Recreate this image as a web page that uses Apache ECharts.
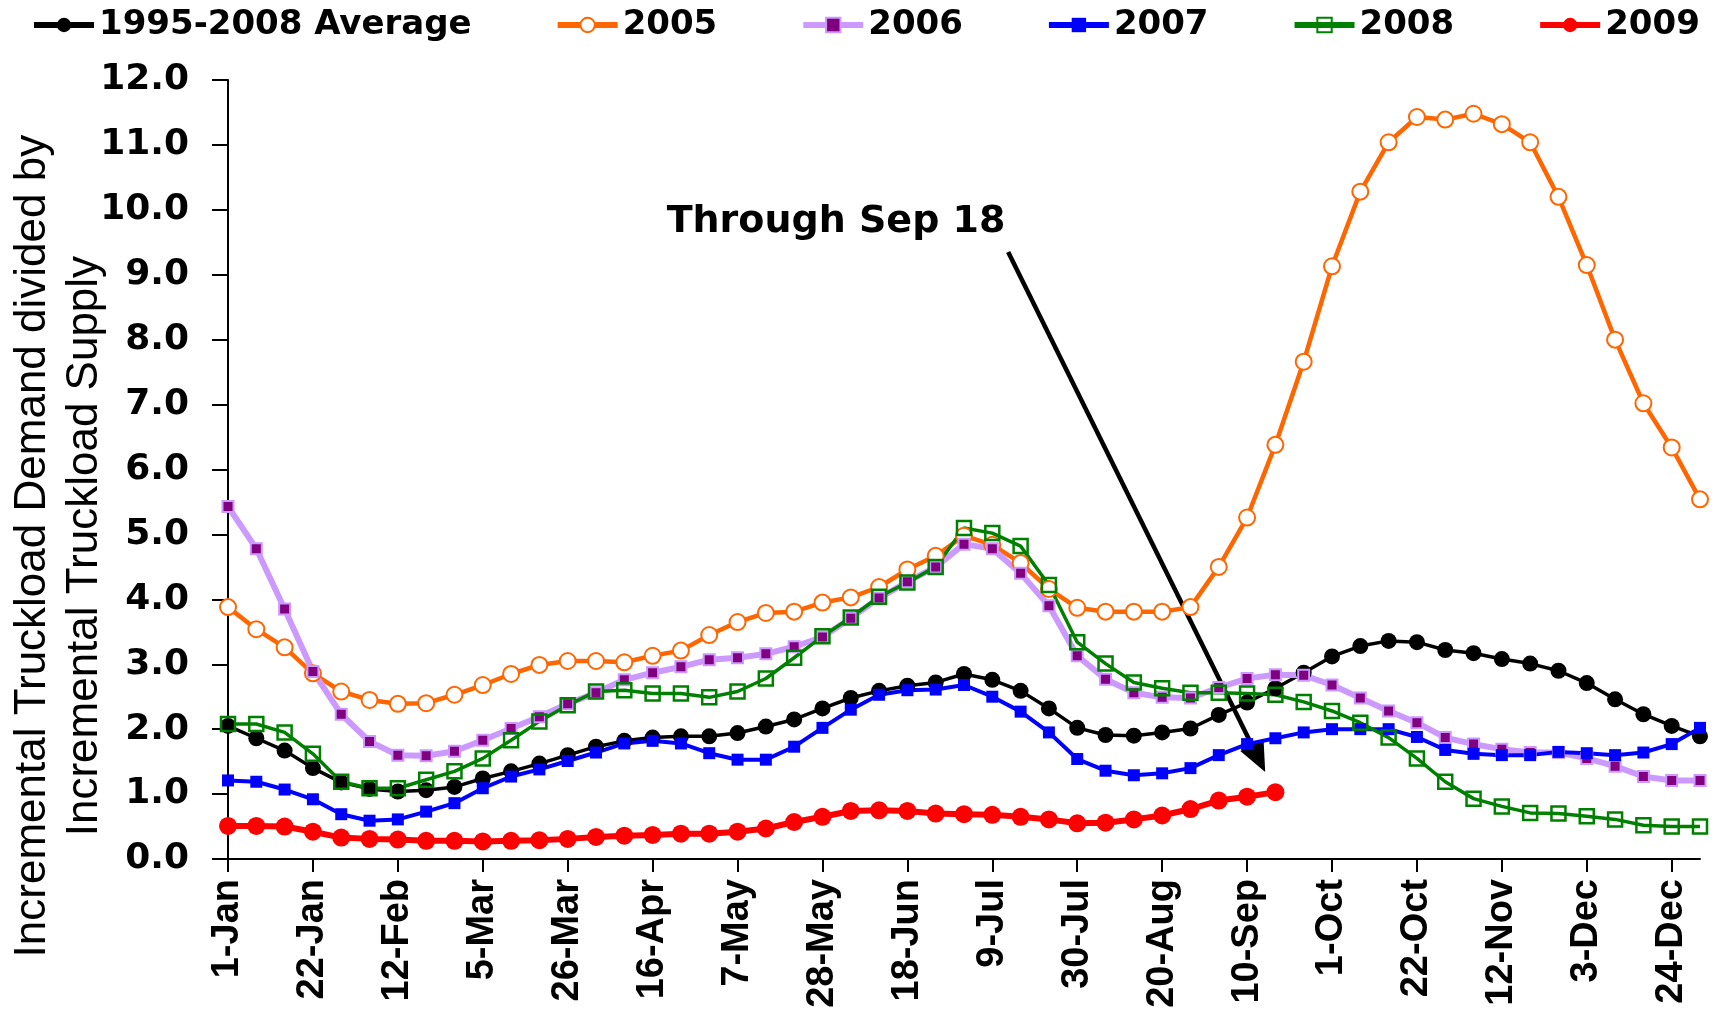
<!DOCTYPE html>
<html>
<head>
<meta charset="utf-8">
<script src="https://cdn.jsdelivr.net/npm/echarts@6/dist/echarts.min.js"></script>
<style>
html,body{margin:0;padding:0;background:#fff;}
#chart{width:1720px;height:1012px;}
</style>
</head>
<body>
<div id="chart"></div>
<script>
const categories = ["1-Jan","8-Jan","15-Jan","22-Jan","29-Jan","5-Feb","12-Feb","19-Feb","26-Feb","5-Mar","12-Mar","19-Mar","26-Mar","2-Apr","9-Apr","16-Apr","23-Apr","30-Apr","7-May","14-May","21-May","28-May","4-Jun","11-Jun","18-Jun","25-Jun","2-Jul","9-Jul","16-Jul","23-Jul","30-Jul","6-Aug","13-Aug","20-Aug","27-Aug","3-Sep","10-Sep","17-Sep","24-Sep","1-Oct","8-Oct","15-Oct","22-Oct","29-Oct","5-Nov","12-Nov","19-Nov","26-Nov","3-Dec","10-Dec","17-Dec","24-Dec","31-Dec"];

const avgValues = [2.05,1.86,1.67,1.40,1.18,1.08,1.04,1.06,1.11,1.24,1.35,1.47,1.60,1.73,1.82,1.87,1.89,1.89,1.94,2.04,2.15,2.32,2.48,2.59,2.67,2.72,2.85,2.76,2.59,2.32,2.02,1.91,1.90,1.95,2.01,2.22,2.41,2.63,2.87,3.12,3.28,3.36,3.34,3.22,3.17,3.08,3.01,2.90,2.71,2.46,2.23,2.05,1.89];

const values2005 = [3.88,3.54,3.26,2.86,2.58,2.45,2.39,2.40,2.53,2.68,2.85,2.99,3.05,3.05,3.03,3.13,3.21,3.45,3.65,3.79,3.81,3.95,4.03,4.19,4.46,4.67,4.98,4.84,4.56,4.16,3.87,3.81,3.81,3.81,3.88,4.50,5.26,6.38,7.66,9.13,10.28,11.04,11.43,11.39,11.48,11.32,11.04,10.20,9.15,8.00,7.02,6.34,5.54];

const values2006 = [5.43,4.78,3.85,2.89,2.23,1.81,1.60,1.59,1.66,1.83,2.01,2.19,2.39,2.56,2.76,2.87,2.96,3.07,3.10,3.16,3.27,3.42,3.71,4.02,4.27,4.50,4.85,4.78,4.40,3.90,3.13,2.77,2.56,2.49,2.48,2.64,2.78,2.84,2.83,2.68,2.48,2.28,2.10,1.87,1.77,1.69,1.64,1.64,1.55,1.43,1.27,1.21,1.21];

const values2007 = [1.21,1.19,1.07,0.92,0.69,0.59,0.61,0.73,0.86,1.09,1.27,1.38,1.51,1.64,1.78,1.82,1.78,1.63,1.53,1.53,1.73,2.02,2.30,2.53,2.60,2.61,2.68,2.50,2.27,1.95,1.54,1.36,1.29,1.32,1.40,1.60,1.77,1.86,1.95,2.00,2.00,2.00,1.88,1.68,1.62,1.60,1.60,1.65,1.63,1.60,1.64,1.77,2.02];

const values2008 = [2.08,2.08,1.95,1.62,1.19,1.09,1.09,1.22,1.35,1.55,1.83,2.12,2.37,2.58,2.60,2.55,2.55,2.49,2.58,2.78,3.10,3.43,3.72,4.04,4.26,4.50,5.10,5.02,4.82,4.22,3.34,3.01,2.72,2.63,2.56,2.56,2.55,2.53,2.42,2.28,2.10,1.87,1.55,1.19,0.93,0.81,0.71,0.70,0.66,0.61,0.52,0.50,0.50];

const values2009 = [0.51,0.51,0.50,0.42,0.33,0.31,0.30,0.28,0.28,0.27,0.28,0.29,0.31,0.34,0.36,0.37,0.39,0.39,0.42,0.47,0.57,0.65,0.74,0.75,0.74,0.70,0.69,0.68,0.65,0.61,0.55,0.56,0.61,0.67,0.77,0.90,0.96,1.03];

const seriesNames = ["1995-2008 Average","2005","2006","2007","2008","2009"];
const yTitleLines = ["Incremental Truckload Demand divided by","Incremental Truckload Supply"];
const annotationText = "Through Sep 18";
// annotation anchors in data space: [category index, value]
const arrowStart = [27.56, 9.35];
const arrowEnd = [36.64, 1.34];
const annotationAnchor = [21.48, 9.81];
const yTitleAnchorValue = 4.82;

const chart = echarts.init(document.getElementById('chart'), null, {renderer:'canvas'});

const boldFont = 'DejaVu Sans';
const option = {
  animation: false,
  backgroundColor: '#ffffff',
  legend: {
    data: seriesNames,
    left: 26,
    top: 3,
    itemGap: 83,
    itemWidth: 60,
    itemHeight: 18,
    lineStyle: {width: 6},
    textStyle: {fontFamily: boldFont, fontWeight: 'bold', fontSize: 34, color: '#000'}
  },
  grid: {left: 228, right: 20, top: 80, bottom: 153, containLabel: false},
  xAxis: {
    type: 'category',
    data: categories,
    boundaryGap: false,
    axisLine: {lineStyle: {color: '#000', width: 2}},
    axisTick: {show: true, interval: 2, length: 13, lineStyle: {color: '#000', width: 2}},
    axisLabel: {
      interval: 2, rotate: 90, margin: 20,
      fontFamily: 'Liberation Sans', fontWeight: 'bold', fontSize: 38, color: '#000'
    },
    splitLine: {show: false}
  },
  yAxis: {
    type: 'value',
    min: 0, max: 12, interval: 1,
    axisLine: {show: true, lineStyle: {color: '#000', width: 2}},
    axisTick: {show: true, length: 16, lineStyle: {color: '#000', width: 2}},
    axisLabel: {
      margin: 39,
      formatter: v => v.toFixed(1),
      fontFamily: boldFont, fontWeight: 'bold', fontSize: 36, color: '#000'
    },
    splitLine: {show: false}
  },
  series: [
    {
      name: seriesNames[0], type: 'line', data: avgValues,
      symbol: 'circle', symbolSize: 16,
      lineStyle: {color: '#000', width: 3.5},
      itemStyle: {color: '#000'}
    },
    {
      name: seriesNames[1], type: 'line', data: values2005,
      symbol: 'circle', symbolSize: 16,
      lineStyle: {color: '#FF6600', width: 4.5},
      itemStyle: {color: '#ffffff', borderColor: '#FF6600', borderWidth: 2}
    },
    {
      name: seriesNames[2], type: 'line', data: values2006,
      symbol: 'rect', symbolSize: 11,
      lineStyle: {color: '#CC99FF', width: 6},
      itemStyle: {color: '#800080', borderColor: '#CC99FF', borderWidth: 2}
    },
    {
      name: seriesNames[3], type: 'line', data: values2007,
      symbol: 'rect', symbolSize: 12,
      lineStyle: {color: '#0000FF', width: 4},
      itemStyle: {color: '#0000FF'}
    },
    {
      name: seriesNames[4], type: 'line', data: values2008,
      symbol: 'rect', symbolSize: 14,
      lineStyle: {color: '#008000', width: 3.5},
      itemStyle: {color: 'rgba(255,255,255,0)', borderColor: '#008000', borderWidth: 2.5}
    },
    {
      name: seriesNames[5], type: 'line', data: values2009,
      symbol: 'circle', symbolSize: 18,
      lineStyle: {color: '#FF0000', width: 6},
      itemStyle: {color: '#FF0000'}
    }
  ]
};
chart.setOption(option);

function toPx(pt) {
  const i0 = Math.floor(pt[0]);
  const f = pt[0] - i0;
  const xa = chart.convertToPixel({xAxisIndex: 0}, i0);
  const xb = chart.convertToPixel({xAxisIndex: 0}, i0 + 1);
  const y = chart.convertToPixel({yAxisIndex: 0}, pt[1]);
  return [xa + (xb - xa) * f, y];
}

const s = toPx(arrowStart);
const e = toPx(arrowEnd);
const t = toPx(annotationAnchor);
const dx = e[0] - s[0], dy = e[1] - s[1];
const len = Math.sqrt(dx * dx + dy * dy);
const ux = dx / len, uy = dy / len;
const headLen = 30, headHalf = 13;
const bx = e[0] - ux * headLen, by = e[1] - uy * headLen;
const yTitleY = chart.convertToPixel({yAxisIndex: 0}, yTitleAnchorValue);

chart.setOption({
  graphic: [
    {
      type: 'line',
      shape: {x1: s[0], y1: s[1], x2: bx + ux * 4, y2: by + uy * 4},
      style: {stroke: '#000', lineWidth: 4.5}
    },
    {
      type: 'polygon',
      shape: {points: [[e[0], e[1]], [bx - uy * headHalf, by + ux * headHalf], [bx + uy * headHalf, by - ux * headHalf]]},
      style: {fill: '#000'}
    },
    {
      type: 'text',
      x: t[0], y: t[1],
      style: {
        text: annotationText, fill: '#000',
        font: 'bold 38px "DejaVu Sans"',
        textAlign: 'center', textVerticalAlign: 'middle'
      }
    },
    {
      type: 'text',
      x: 33, y: yTitleY,
      rotation: Math.PI / 2,
      style: {
        text: yTitleLines[0], fill: '#000',
        font: '44px "Liberation Sans"',
        textAlign: 'center', textVerticalAlign: 'middle'
      }
    },
    {
      type: 'text',
      x: 85, y: yTitleY,
      rotation: Math.PI / 2,
      style: {
        text: yTitleLines[1], fill: '#000',
        font: '44px "Liberation Sans"',
        textAlign: 'center', textVerticalAlign: 'middle'
      }
    }
  ]
});
</script>
</body>
</html>
